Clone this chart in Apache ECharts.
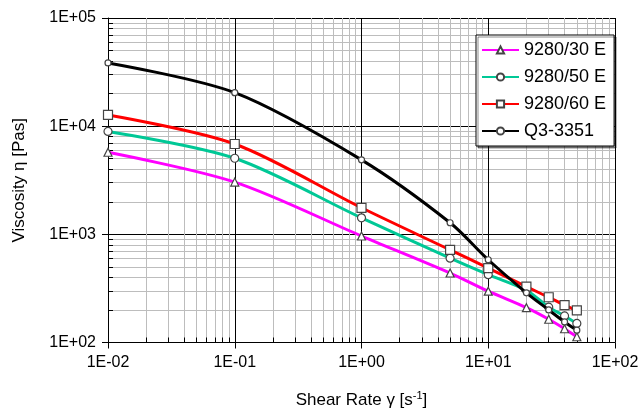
<!DOCTYPE html>
<html>
<head>
<meta charset="utf-8">
<script src="https://cdn.jsdelivr.net/npm/echarts@6/dist/echarts.min.js"></script>
<style>
  html, body { margin: 0; padding: 0; background: #fff; }
  #chart { width: 643px; height: 414px; }
</style>
</head>
<body>
<div id="chart"></div>
<script>
// shear rate points (s^-1)
var shearRate = [0.01, 0.1, 1, 5, 10, 20, 30, 40, 50]
// viscosity readings (Pas)
var visc30 = [5740, 3040, 965, 439, 298, 210, 164, 134, 113]
var visc50 = [8940, 5050, 1420, 602, 424, 304, 212, 176, 150]
var visc60 = [12700, 6840, 1760, 718, 488, 328, 262, 222, 198]
var viscQ3 = [38400, 20400, 4880, 1280, 582, 288, 200, 155, 130]
var seriesNames = ['9280/30 E', '9280/50 E', '9280/60 E', 'Q3-3351']

var font = '"Liberation Sans", Arial, sans-serif'

function sciLabel(v) {
  var e = Math.round(Math.log10(v))
  return '1E' + (e < 0 ? '-' : '+') + String(Math.abs(e)).padStart(2, '0')
}

function pairs(ys) {
  return shearRate.map(function (x, i) {
    return [x, ys[i]]
  })
}

var myChart = echarts.init(document.getElementById('chart'))

var seriesList = [
  { name: seriesNames[0], data: visc30, color: '#ff00ff', symbol: 'triangle', size: 8 },
  { name: seriesNames[1], data: visc50, color: '#00c896', symbol: 'circle', size: 8 },
  { name: seriesNames[2], data: visc60, color: '#ff0000', symbol: 'rect', size: 9 },
  { name: seriesNames[3], data: viscQ3, color: '#000000', symbol: 'circle', size: 6 }
]

// shared log axis pieces
function logAxis(extra) {
  var base = {
    type: 'log',
    logBase: 10,
    axisLine: { lineStyle: { color: '#000', width: 1 } },
    axisTick: { inside: false, length: 6, lineStyle: { color: '#000' } },
    axisLabel: {
      color: '#000',
      fontSize: 16,
      fontFamily: font,
      margin: 12,
      formatter: sciLabel
    },
    splitLine: { show: true, lineStyle: { color: '#000', width: 1 } },
    minorSplitLine: { show: true, lineStyle: { color: '#bdbdbd', width: 1 } },
    minorTick: { show: false, splitNumber: 9 }
  }
  return Object.assign(base, extra)
}

// overlay axis only for the small inward minor ticks
function tickAxis(extra) {
  return Object.assign({
    type: 'log',
    logBase: 10,
    axisLine: { show: false },
    axisTick: { show: false, inside: true },
    axisLabel: { show: false },
    splitLine: { show: false },
    minorTick: { show: true, splitNumber: 9, length: 5, lineStyle: { color: '#000', width: 1 } }
  }, extra)
}

var option = {
  animation: false,
  backgroundColor: '#fff',
  grid: {
    left: 108,
    right: 28,
    top: 18,
    bottom: 69
  },
  legend: {
    left: 476,
    top: 35,
    orient: 'vertical',
    itemWidth: 37,
    itemHeight: 9,
    itemGap: 9,
    padding: [6, 8, 6, 5],
    backgroundColor: '#fff',
    borderColor: '#000',
    borderWidth: 1,
    shadowColor: 'rgba(0,0,0,0.45)',
    shadowOffsetX: 2,
    shadowOffsetY: 2,
    textStyle: { color: '#000', fontSize: 18, fontFamily: font },
    data: seriesNames
  },
  xAxis: [
    logAxis({
      min: 0.01,
      max: 100,
      splitNumber: 4,
      name: 'Shear Rate γ [s{sup|-1}]',
      nameLocation: 'middle',
      nameGap: 48,
      nameTextStyle: {
        color: '#000',
        fontSize: 17,
        fontFamily: font,
        rich: {
          sup: { fontSize: 11, fontFamily: font, color: '#000', padding: [0, 0, 9, 0] }
        }
      }
    }),
    tickAxis({ min: 0.01, max: 100, splitNumber: 4, position: 'bottom' })
  ],
  yAxis: [
    logAxis({
      min: 100,
      max: 100000,
      splitNumber: 3,
      name: 'Viscosity η [Pas]',
      nameLocation: 'middle',
      nameGap: 80,
      nameTextStyle: { color: '#000', fontSize: 17, fontFamily: font }
    }),
    tickAxis({ min: 100, max: 100000, splitNumber: 3, position: 'left' })
  ],
  series: []
}

seriesList.forEach(function (item, idx) {
  option.series.push({
    name: item.name,
    type: 'line',
    smooth: 0.3,
    z: 3 + idx,
    data: pairs(item.data),
    symbol: item.symbol,
    symbolSize: item.size,
    showAllSymbol: true,
    lineStyle: { color: item.color, width: 3 },
    itemStyle: { color: '#fff', borderColor: '#444', borderWidth: 1.2 },
    emphasis: { disabled: true }
  })
})

myChart.setOption(option)
</script>
</body>
</html>
